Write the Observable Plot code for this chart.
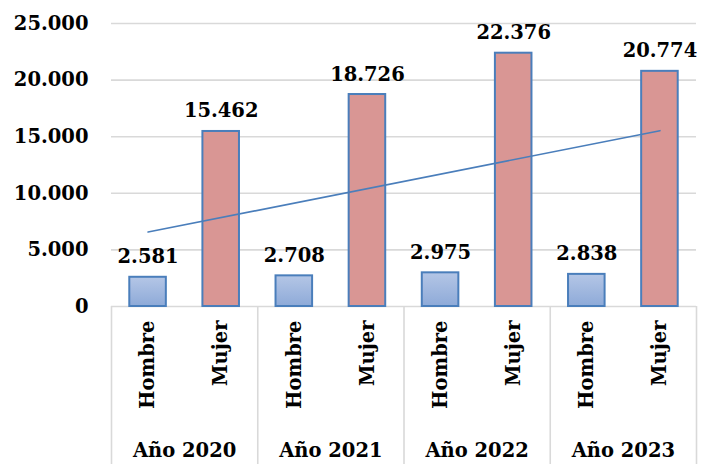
<!DOCTYPE html>
<html>
<head>
<meta charset="utf-8">
<script src="https://cdn.jsdelivr.net/npm/d3@7"></script>
<script src="https://cdn.jsdelivr.net/npm/@observablehq/plot@0.6"></script>
<style>
  html, body { margin: 0; padding: 0; background: #ffffff; }
  #chart svg { display: block; }
</style>
</head>
<body>
<div id="chart"></div>
<script>
const years = ["Año 2020", "Año 2021", "Año 2022", "Año 2023"];
const sexes = ["Hombre", "Mujer"];
const hombre = [2581, 2708, 2975, 2838];
const mujer = [15462, 18726, 22376, 20774];
const yTicks = [0, 5000, 10000, 15000, 20000, 25000];

const data = years.flatMap((yr, g) =>
  sexes.map((s, k) => ({ year: yr, sex: s, i: 2 * g + k, value: k ? mujer[g] : hombre[g] }))
);

const loc = d3.formatLocale({ decimal: ",", thousands: ".", grouping: [3], currency: ["", "€"] });
const fmt = loc.format(",");

const FONT = "DejaVu Serif";
const FS = 19.5;

const catTicks = data.map(d => d.i);
const sepTicks = years.map((_, g) => 2 * g - 0.5).concat([2 * years.length - 0.5]);
const yearTicks = years.map((_, g) => 2 * g + 0.5);

const chart = Plot.plot({
  width: 706,
  height: 464,
  marginLeft: 111,
  marginRight: 10,
  marginTop: 23,
  marginBottom: 158,
  style: { fontFamily: FONT, fontWeight: "bold", color: "#000", background: "#fff" },
  x: { type: "linear", domain: [-0.5, 2 * years.length - 0.5] },
  y: { domain: [0, 25000] },
  marks: [
    Plot.ruleY(yTicks, { stroke: "#d9d9d9", strokeWidth: 1.6 }),
    Plot.axisX({ ticks: sepTicks, tickSize: 158, label: null, stroke: "#d9d9d9", strokeWidth: 1.6, strokeOpacity: 1, tickFormat: () => "" }),
    Plot.axisX({ ticks: catTicks, tickSize: 0, tickPadding: 14, tickRotate: -90, label: null, fontSize: FS, fontWeight: "bold", fill: "#000",
                 tickFormat: v => sexes[v % 2] }),
    Plot.axisX({ ticks: yearTicks, tickSize: 0, tickPadding: 137, label: null, fontSize: FS, fontWeight: "bold", fill: "#000",
                 tickFormat: v => years[(v - 0.5) / 2] }),
    Plot.axisY({ ticks: yTicks, tickSize: 0, tickPadding: 23, label: null, fontSize: FS, fontWeight: "bold", fill: "#000",
                 tickFormat: fmt }),
    Plot.rectY(data, {
      x1: d => d.i - 0.25, x2: d => d.i + 0.25, y: "value",
      fill: d => d.sex === "Hombre" ? "url(#gradH)" : "#d99694",
      stroke: "#4a7ebb", strokeWidth: 2
    }),
    Plot.linearRegressionY(data, { x: "i", y: "value", ci: 0, stroke: "#4a7ebb", strokeWidth: 1.6 }),
    Plot.text(data, { x: "i", y: "value", text: d => fmt(d.value), lineAnchor: "bottom", dy: -14,
                      fontSize: FS, fontWeight: "bold", fill: "#000" })
  ]
});

const defs = d3.select(chart).insert("defs", ":first-child");
const grad = defs.append("linearGradient").attr("id", "gradH")
  .attr("x1", 0).attr("y1", 0).attr("x2", 0).attr("y2", 1);
grad.append("stop").attr("offset", "0%").attr("stop-color", "#b4c6e6");
grad.append("stop").attr("offset", "100%").attr("stop-color", "#8eaad8");

document.getElementById("chart").appendChild(chart);
</script>
</body>
</html>
